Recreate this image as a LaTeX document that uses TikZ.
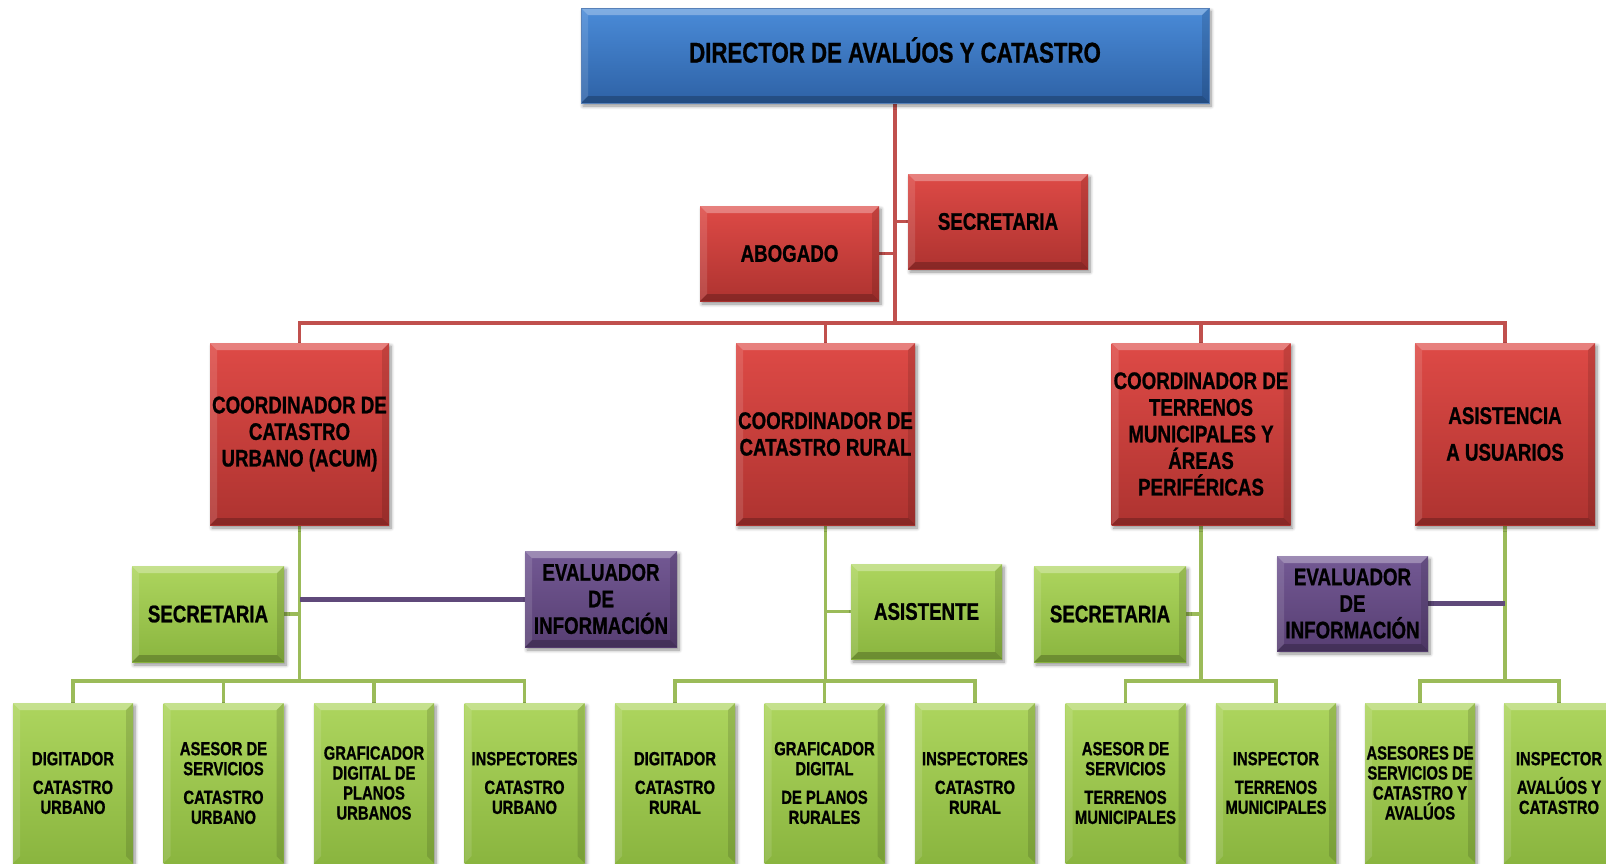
\documentclass[tikz,border=0pt]{standalone}
\usepackage{fontspec}
\setmainfont[FakeStretch=0.78, BoldFeatures={FakeBold=0.9}]{Liberation Sans}
\usetikzlibrary{shadows.blur}
\pgfdeclarelayer{background}
\pgfsetlayers{background,main}

\definecolor{blueTop}{HTML}{4A8BD8}
\definecolor{blueBot}{HTML}{2E62A6}
\definecolor{redTop}{HTML}{DE4A46}
\definecolor{redBot}{HTML}{AE3330}
\definecolor{greenTop}{HTML}{ADD55E}
\definecolor{greenBot}{HTML}{8AB53F}
\definecolor{purpleTop}{HTML}{735994}
\definecolor{purpleBot}{HTML}{573E72}
\definecolor{redLine}{HTML}{C0504D}
\definecolor{greenLine}{HTML}{9BBB59}
\definecolor{purpleLine}{HTML}{5F497A}

\newcommand\bvl{7pt}
% bevelled edges of a box: top, left and right faces
\newcommand\bevelsides{%
  \fill[white,opacity=.30] (path picture bounding box.north west) -- (path picture bounding box.north east)
    -- ([xshift=-\bvl,yshift=-\bvl]path picture bounding box.north east) -- ([xshift=\bvl,yshift=-\bvl]path picture bounding box.north west) -- cycle;
  \fill[white,opacity=.12] (path picture bounding box.north west) -- ([xshift=\bvl,yshift=-\bvl]path picture bounding box.north west)
    -- ([xshift=\bvl,yshift=\bvl]path picture bounding box.south west) -- (path picture bounding box.south west) -- cycle;
  \fill[black,opacity=.12] (path picture bounding box.north east) -- ([xshift=-\bvl,yshift=-\bvl]path picture bounding box.north east)
    -- ([xshift=-\bvl,yshift=\bvl]path picture bounding box.south east) -- (path picture bounding box.south east) -- cycle;}
% bottom face
\newcommand\bevelfoot{%
  \fill[black,opacity=.22] (path picture bounding box.south west) -- ([xshift=\bvl,yshift=\bvl]path picture bounding box.south west)
    -- ([xshift=-\bvl,yshift=\bvl]path picture bounding box.south east) -- (path picture bounding box.south east) -- cycle;}

\tikzset{
  bevel/.style={path picture={\bevelsides\bevelfoot}},
  bevelopen/.style={path picture={\bevelsides}},
  unit/.style={rectangle, inner sep=0pt, align=center, text=black, bevel,
    blur shadow={shadow xshift=2pt, shadow yshift=-3pt, shadow blur radius=3.5pt, shadow blur steps=6, shadow opacity=45}},
  bluebox/.style={unit, top color=blueTop, bottom color=blueBot, draw=blueBot!80!white, line width=0.6pt},
  redbox/.style={unit, top color=redTop, bottom color=redBot},
  greenbox/.style={unit, top color=greenTop, bottom color=greenBot},
  purplebox/.style={unit, top color=purpleTop, bottom color=purpleBot},
  bigtxt/.style={font=\bfseries\fontsize{28.5}{32}\selectfont},
  midtxt/.style={font=\bfseries\fontsize{24}{26.6}\selectfont},
  smalltxt/.style={font=\bfseries\fontsize{19}{20}\selectfont},
  redlink/.style={draw=redLine, line width=3.5pt},
  greenlink/.style={draw=greenLine, line width=3.5pt},
  purplelink/.style={draw=purpleLine, line width=5pt},
  leaf/.style={greenbox, bevelopen, smalltxt, minimum width=120pt, minimum height=160pt}
}

\begin{document}
\begin{tikzpicture}[x=1pt,y=-1pt]
\useasboundingbox (0,0) rectangle (1606,863);

% top of the hierarchy
\node[bluebox, bigtxt, text height=21pt, text depth=7pt, minimum width=628pt, minimum height=95pt] (dir) at (895,55.5) {DIRECTOR DE AVALÚOS Y CATASTRO};
\node[redbox, midtxt, minimum width=179pt, minimum height=95pt] (abog) at (789.5,253.5) {ABOGADO};
\node[redbox, midtxt, minimum width=180pt, minimum height=95pt] (secdir) at (998,221.5) {SECRETARIA};

% coordinators
\node[redbox, midtxt, minimum width=179pt, minimum height=182pt] (curb) at (299.5,434) {COORDINADOR DE\\CATASTRO\\URBANO (ACUM)};
\node[redbox, midtxt, minimum width=179pt, minimum height=182pt] (crur) at (825.5,434) {COORDINADOR DE\\CATASTRO RURAL};
\node[redbox, midtxt, minimum width=179pt, minimum height=182pt] (cter) at (1201,434) {COORDINADOR DE\\TERRENOS\\MUNICIPALES Y\\ÁREAS\\PERIFÉRICAS};
\node[redbox, midtxt, minimum width=180pt, minimum height=182pt] (casi) at (1505,434) {ASISTENCIA\\[10pt]A USUARIOS};

% support staff
\node[greenbox, midtxt, minimum width=152pt, minimum height=96pt] (secu) at (208,614) {SECRETARIA};
\node[purplebox, midtxt, minimum width=152pt, minimum height=96pt] (evalu) at (601,599) {EVALUADOR\\DE\\INFORMACIÓN};
\node[greenbox, midtxt, minimum width=151pt, minimum height=95pt] (asis) at (926.5,611.5) {ASISTENTE};
\node[greenbox, midtxt, minimum width=152pt, minimum height=96pt] (sect) at (1110,614) {SECRETARIA};
\node[purplebox, midtxt, minimum width=151pt, minimum height=95pt] (evala) at (1352.5,603.5) {EVALUADOR\\DE\\INFORMACIÓN};

% staff units
\node[leaf] (l1) at (73,783) {DIGITADOR\\[8.7pt]CATASTRO\\URBANO};
\node[leaf] (l2) at (223.5,783) {ASESOR DE\\SERVICIOS\\[8.7pt]CATASTRO\\URBANO};
\node[leaf] (l3) at (374,783) {GRAFICADOR\\DIGITAL DE\\PLANOS\\URBANOS};
\node[leaf] (l4) at (524.5,783) {INSPECTORES\\[8.7pt]CATASTRO\\URBANO};
\node[leaf] (l5) at (675,783) {DIGITADOR\\[8.7pt]CATASTRO\\RURAL};
\node[leaf] (l6) at (824.5,783) {GRAFICADOR\\DIGITAL\\[8.7pt]DE PLANOS\\RURALES};
\node[leaf] (l7) at (975,783) {INSPECTORES\\[8.7pt]CATASTRO\\RURAL};
\node[leaf] (l8) at (1125.5,783) {ASESOR DE\\SERVICIOS\\[8.7pt]TERRENOS\\MUNICIPALES};
\node[leaf] (l9) at (1276,783) {INSPECTOR\\[8.7pt]TERRENOS\\MUNICIPALES};
\node[leaf, minimum width=110pt] (l10) at (1420,783) {ASESORES DE\\SERVICIOS DE\\CATASTRO Y\\AVALÚOS};
\node[leaf, minimum width=110pt] (l11) at (1559,783) {INSPECTOR\\[8.7pt]AVALÚOS Y\\CATASTRO};

% junction points
\coordinate (jtop) at (895,323);
\coordinate (ju) at (299.5,681);
\coordinate (jr) at (825.5,681);
\coordinate (jt) at (1201,681);
\coordinate (ja) at (1505,681);

\begin{pgfonlayer}{background}
  % red links
  \draw[redlink] (dir.south) -- (jtop);
  \draw[redlink] (abog.east) -- (abog.east -| jtop);
  \draw[redlink] (secdir.west) -- (secdir.west -| jtop);
  \draw[redlink] (jtop) -| (curb.north);
  \draw[redlink] (jtop) -| (crur.north);
  \draw[redlink] (jtop) -| (cter.north);
  \draw[redlink] (jtop) -| (casi.north);
  % green links
  \draw[greenlink] (curb.south) -- (ju);
  \draw[greenlink] (crur.south) -- (jr);
  \draw[greenlink] (cter.south) -- (jt);
  \draw[greenlink] (casi.south) -- (ja);
  \draw[greenlink] (secu.east) -- (secu.east -| ju);
  \draw[greenlink] (asis.west) -- (asis.west -| jr);
  \draw[greenlink] (sect.east) -- (sect.east -| jt);
  \draw[purplelink] (evalu.west) -- (evalu.west -| ju);
  \draw[purplelink] (evala.east) -- (evala.east -| ja);
  \foreach \l in {l1,l2,l3,l4} \draw[greenlink] (ju) -| (\l.north);
  \foreach \l in {l5,l6,l7} \draw[greenlink] (jr) -| (\l.north);
  \foreach \l in {l8,l9} \draw[greenlink] (jt) -| (\l.north);
  \foreach \l in {l10,l11} \draw[greenlink] (ja) -| (\l.north);
\end{pgfonlayer}
\end{tikzpicture}
\end{document}
